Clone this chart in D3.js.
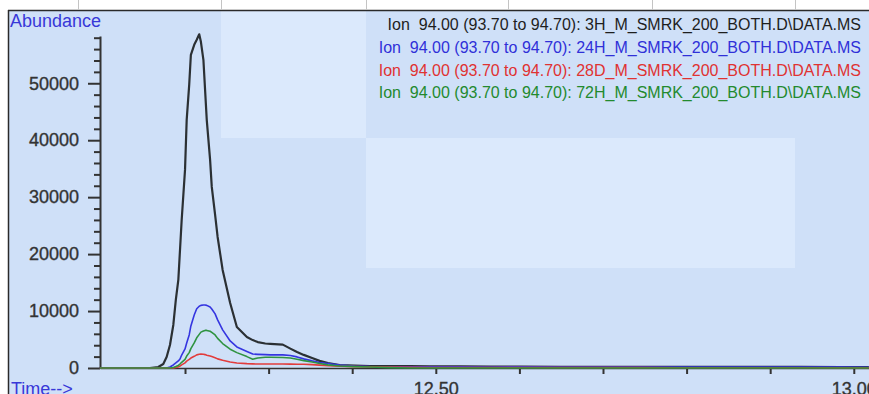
<!DOCTYPE html>
<html>
<head>
<meta charset="utf-8">
<script src="https://cdn.jsdelivr.net/npm/d3@7"></script>
<style>
  html, body { margin: 0; padding: 0; background: #fff; overflow: hidden; }
  svg { display: block; font-family: "Liberation Sans", Arial, sans-serif; }
</style>
</head>
<body>
<svg id="chart" width="869" height="394"></svg>
<script>
// Extracted ion chromatograms, m/z 94.00 (93.70 to 94.70)
const retentionTime = [12.098, 12.158, 12.168, 12.174, 12.178, 12.182, 12.186, 12.189, 12.192, 12.194,
  12.196, 12.200, 12.202, 12.205, 12.207, 12.211, 12.214, 12.217, 12.219, 12.222,
  12.224, 12.226, 12.230, 12.232, 12.236, 12.239, 12.245, 12.254, 12.262, 12.274,
  12.281, 12.287, 12.296, 12.302, 12.317, 12.326, 12.334, 12.342, 12.352, 12.361,
  12.371, 12.385, 12.403, 12.421, 12.445, 12.469, 12.493, 12.529, 12.565, 12.601,
  12.649, 12.696, 12.744, 12.792, 12.840, 12.888, 12.936, 12.984, 13.018];

const abundance3H = [0, 0, 180, 700, 1930, 4040, 7560, 11950, 15460, 20730,
  26000, 34790, 43570, 49720, 55000, 56750, 57630, 58600, 57280, 54120,
  48850, 43570, 36550, 31800, 26880, 23010, 17220, 11420, 7200, 5450,
  4900, 4550, 4300, 4250, 4100, 3400, 2800, 2300, 1750, 1250,
  880, 530, 440, 350, 350, 330, 300, 300, 260, 250,
  220, 200, 200, 220, 220, 200, 200, 180, 150];

const abundance24H = [0, 0, 0, 0, 0, 180, 530, 880, 1230, 1580,
  2280, 3340, 4390, 5800, 7380, 9310, 10400, 10850, 11000, 11050,
  11050, 11000, 10700, 10350, 9500, 8450, 6700, 4750, 3700, 2900,
  2450, 2400, 2350, 2300, 2300, 2200, 1950, 1600, 1250, 970,
  790, 530, 350, 260, 230, 220, 200, 200, 180, 200,
  180, 170, 180, 160, 170, 160, 150, 150, 140];

const abundance28D = [0, 0, 0, 0, 0, 0, 0, 100, 200, 350,
  550, 900, 1200, 1500, 1750, 2050, 2300, 2400, 2450, 2420,
  2350, 2250, 2100, 2000, 1800, 1600, 1350, 1050, 880, 760,
  720, 700, 700, 700, 700, 680, 650, 650, 600, 500,
  400, 300, 250, 200, 180, 120, 100, 100, 80, 90,
  70, 60, 60, 50, 50, 40, 40, 30, 30];

const abundance72H = [0, 0, 0, 0, 0, 0, 100, 260, 450, 700,
  1000, 1500, 2100, 2700, 3400, 4400, 5300, 5900, 6300, 6500,
  6600, 6600, 6450, 6250, 5800, 5200, 4300, 3300, 2700, 2000,
  1550, 1750, 1900, 1900, 1850, 1750, 1550, 1300, 1050, 800,
  550, 350, 250, 180, 60, 0, 0, 0, 0, 0,
  0, 0, 0, 0, 0, 0, 0, 0, 0];

const seriesLabels = [
  "Ion  94.00 (93.70 to 94.70): 3H_M_SMRK_200_BOTH.D\\DATA.MS",
  "Ion  94.00 (93.70 to 94.70): 24H_M_SMRK_200_BOTH.D\\DATA.MS",
  "Ion  94.00 (93.70 to 94.70): 28D_M_SMRK_200_BOTH.D\\DATA.MS",
  "Ion  94.00 (93.70 to 94.70): 72H_M_SMRK_200_BOTH.D\\DATA.MS"
];

const yTickValues = d3.range(0, 58001, 2000);
const xTickValues = [12.2, 12.3, 12.4, 12.5, 12.6, 12.7, 12.8, 12.9, 13.0];
const xTickLabels = ["", "", "", "12.50", "", "", "", "", "13.00"];

// Styling
const lineColors = ["#2b3034", "#3535e0", "#e23c3c", "#2f9340"];
const lineWidths = [2.2, 1.6, 1.6, 1.6];
const textColors = ["#1e1e1e", "#3030d8", "#e03232", "#238a2e"];

const svg = d3.select("#chart");
const W = 869, H = 394;

// Page and plot background
svg.append("rect").attr("width", W).attr("height", H).attr("fill", "#ffffff");
svg.append("rect").attr("x", 8).attr("y", 10).attr("width", W - 8).attr("height", H - 10)
  .attr("fill", "#cfe0f8");
svg.append("rect").attr("x", 221).attr("y", 11).attr("width", 145).attr("height", 127)
  .attr("fill", "#dbe9fc");
svg.append("rect").attr("x", 366).attr("y", 138).attr("width", 429).attr("height", 130)
  .attr("fill", "#dbe9fc");

// Window frame
svg.append("line").attr("x1", 8).attr("x2", W).attr("y1", 10.5).attr("y2", 10.5)
  .attr("stroke", "#2a2a2a").attr("stroke-width", 1.5);
svg.append("line").attr("x1", 8.5).attr("x2", 8.5).attr("y1", 10).attr("y2", H)
  .attr("stroke", "#2a2a2a").attr("stroke-width", 1.5);
svg.selectAll(".sep").data([78, 221, 366, 508, 652, 795]).join("line")
  .attr("x1", d => d + 0.5).attr("x2", d => d + 0.5).attr("y1", 0).attr("y2", 10)
  .attr("stroke", "#c4c4c4").attr("stroke-width", 1);

// Scales
const x = d3.scaleLinear().domain([12.0983, 13.0182]).range([100, 869]);
const y = d3.scaleLinear().domain([0, 58300]).range([368, 36]);

// Y axis
const yAxis = svg.append("g").attr("transform", "translate(100,0)")
  .call(d3.axisLeft(y).tickValues(yTickValues).tickSize(12).tickSizeOuter(0).tickPadding(9)
    .tickFormat(d => d % 10000 === 0 ? String(d) : ""));
yAxis.select(".domain").attr("stroke", "#333").attr("stroke-width", 2);
yAxis.selectAll(".tick line")
  .attr("x2", d => d % 10000 === 0 ? -12 : -6)
  .attr("stroke", "#333").attr("stroke-width", 2);
yAxis.selectAll(".tick text")
  .attr("font-size", 18).attr("fill", "#333").attr("stroke", "#333").attr("stroke-width", 0.35)
  .attr("font-family", "Liberation Sans, Arial, sans-serif");

// X axis
const xAxis = svg.append("g").attr("transform", "translate(0,368)")
  .call(d3.axisBottom(x).tickValues(xTickValues).tickSize(6).tickSizeOuter(0).tickPadding(8)
    .tickFormat((d, i) => xTickLabels[i]));
xAxis.select(".domain").attr("stroke", "#333").attr("stroke-width", 1.6);
xAxis.selectAll(".tick line").attr("stroke", "#333").attr("stroke-width", 2);
xAxis.selectAll(".tick text")
  .attr("font-size", 18).attr("fill", "#333").attr("stroke", "#333").attr("stroke-width", 0.35)
  .attr("font-family", "Liberation Sans, Arial, sans-serif");

// Chromatogram traces
const seriesValues = [abundance3H, abundance24H, abundance28D, abundance72H];
const line = d3.line().x(d => x(d[0])).y(d => y(d[1]));
seriesValues.forEach((vals, i) => {
  svg.append("path")
    .datum(retentionTime.map((t, k) => [t, vals[k]]))
    .attr("d", line)
    .attr("fill", "none")
    .attr("stroke", lineColors[i])
    .attr("stroke-width", lineWidths[i])
    .attr("stroke-linejoin", "round");
});

// Legend
svg.append("g").selectAll("text").data(seriesLabels).join("text")
  .attr("x", 861)
  .attr("y", (d, i) => [30, 53, 76, 98][i])
  .attr("text-anchor", "end")
  .attr("font-size", 16)
  .attr("fill", (d, i) => textColors[i])
  .attr("xml:space", "preserve")
  .style("white-space", "pre")
  .text(d => d);

// Axis titles
svg.append("text").attr("x", 10).attr("y", 27).attr("font-size", 18)
  .attr("fill", "#3838d8").text("Abundance");
svg.append("text").attr("x", 11).attr("y", 395).attr("font-size", 18)
  .attr("fill", "#3838d8").text("Time-->");
</script>
</body>
</html>
